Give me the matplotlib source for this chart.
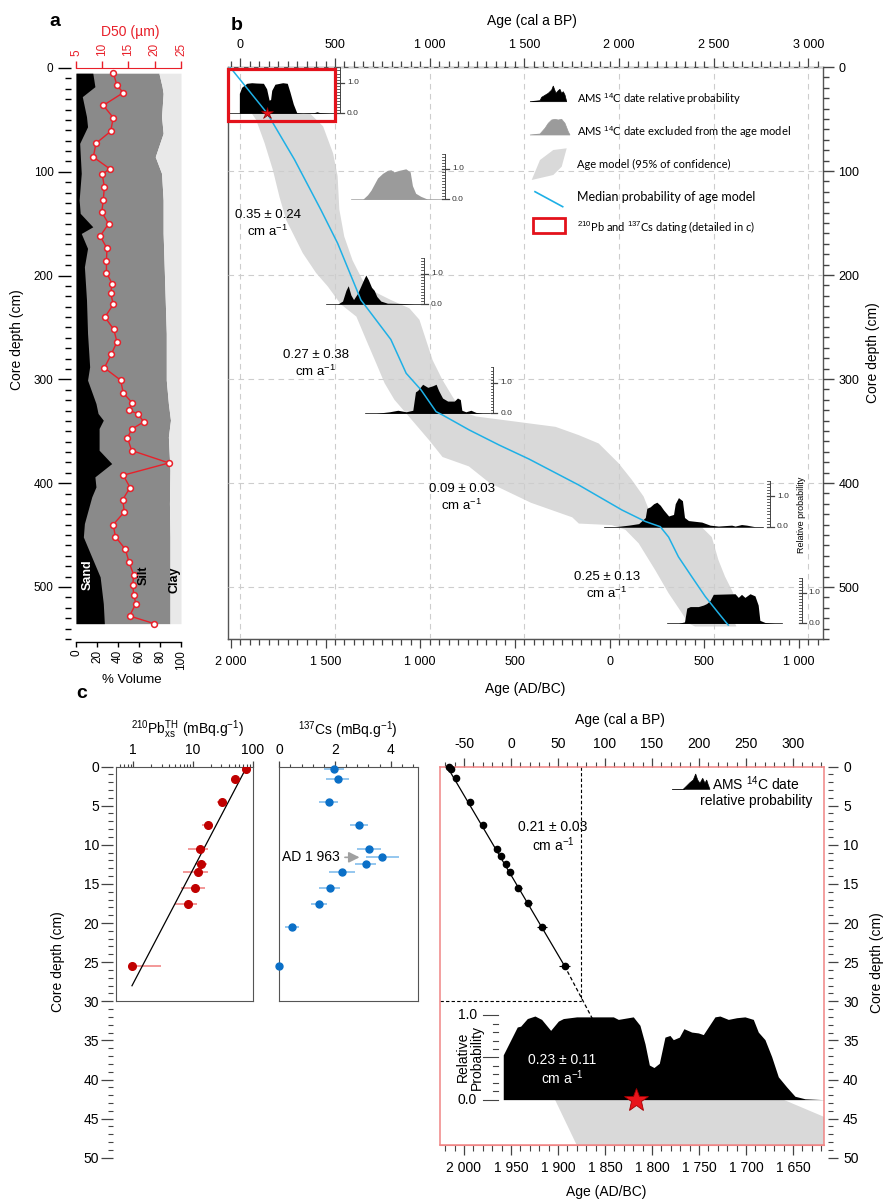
import numpy as np
import matplotlib
matplotlib.use("Agg")
import matplotlib.pyplot as plt
from matplotlib.ticker import (MultipleLocator, FixedLocator, FuncFormatter,
                               LogLocator, NullFormatter)
from matplotlib.patches import Rectangle, Polygon

plt.rcParams.update({
    "font.family": ["Liberation Sans", "DejaVu Sans"],
    "mathtext.fontset": "custom",
    "mathtext.rm": "Liberation Sans",
    "mathtext.it": "Liberation Sans:italic",
    "mathtext.bf": "Liberation Sans:bold",
    "axes.unicode_minus": False,
})

# ---------------- panel a : grain size ----------------
sand_depth = [5, 18, 27.6, 46.9, 56.6, 72.6, 101.5, 127.2, 140, 153, 159.4, 173.8, 191.5, 223.6, 255.7, 287.9,
              300.7, 323.2, 332.8, 339.3, 347.3, 368.2, 381.1, 393.9, 403.6, 413.2, 438.9, 451.8, 471.1, 490.3, 516, 535.3]
sand_pct = [16, 18, 6, 10, 11, 3.5, 5, 3, 4, 16, 5, 11, 8, 10, 11, 13,
            11, 19, 21, 26, 22, 22, 34, 18, 19, 15, 8, 7, 15, 23, 26, 27]
silt_clay_depth = [5, 18, 24.5, 46.9, 63, 85.5, 101.5, 127.2, 159.4, 191.5, 223.6, 255.7, 287.9,
                   300.7, 323.2, 339.3, 355.4, 387.5, 419.6, 451.8, 483.9, 535.3]
silt_clay_bound = [79, 82, 83, 81.5, 83, 75.5, 81.5, 83, 83, 84, 85, 86, 86,
                   86, 88, 90, 88, 89.5, 89, 89.5, 89.5, 89.5]
d50_depth = [4.5, 16.7, 23.8, 36.0, 47.9, 61.0, 72.6, 85.8, 97.0, 102.5, 114.4, 127.2, 138.8, 150.1, 161.9,
             173.8, 186.0, 197.3, 207.9, 216.6, 227.8, 240.0, 251.9, 263.8, 276.0, 288.9, 300.7, 313.0,
             322.6, 329.7, 333.2, 340.9, 348.0, 356.4, 368.5, 380.5, 392.3, 404.2, 415.8, 427.7, 439.9,
             451.5, 463.7, 475.9, 488.7, 497.7, 507.7, 516.0, 527.9, 535.3]
d50 = [12.1, 12.8, 14.0, 10.2, 12.1, 11.6, 8.8, 8.3, 11.4, 10.0, 10.4, 10.2, 9.9, 11.2, 9.6,
       10.9, 10.8, 10.8, 11.9, 11.6, 12.1, 10.5, 12.2, 12.8, 11.7, 10.4, 13.5, 14.0,
       15.7, 15.1, 16.8, 17.9, 15.6, 14.8, 15.6, 22.7, 14.0, 15.3, 13.9, 14.2, 12.1,
       12.5, 14.4, 15.1, 16.0, 15.8, 16.0, 16.4, 15.2, 19.9]

# ---------------- panel b : age model ----------------
band_left_bp = [60, 84, 128, 172, 207, 242, 286, 330, 400, 462, 530, 613, 665, 718, 762, 814, 876, 937, 998, 1068,
                1207, 1317, 1535, 1753, 1788, 1963, 2034, 2104, 2192, 2262, 2332, 2367, 2402]
band_left_depth = [44.5, 51, 73, 99, 125, 147, 163, 179, 198, 211, 228, 240, 262.5, 285, 304, 320, 333, 346, 359, 375,
                   384, 400, 419, 433, 439, 440.5, 445, 458, 484, 506, 525, 535, 538]
band_right_bp = [367, 437, 490, 514, 523, 549, 593, 646, 707, 795, 893, 946, 981, 1016, 1068, 1121, 1174, 1244, 1455,
                 1665, 1788, 1893, 1998, 2068, 2130, 2165, 2192, 2440, 2490, 2525, 2560, 2604, 2613, 2620]
band_right_depth = [44.5, 57, 83, 105, 137, 163, 186, 205, 216, 224, 232, 243, 262.5, 282, 301, 317, 331.5, 336, 341,
                    346, 354, 362, 381, 397, 413, 429, 442, 443, 452, 474, 490, 506, 535, 538]
median_bp = [-55, 142, 286, 426, 514, 637, 795, 876, 955, 1034, 1068, 1209, 1367, 1525, 1788, 2016, 2139, 2218,
             2262, 2314, 2384, 2455, 2525, 2577]
median_depth = [0, 44.5, 89, 137.5, 169.5, 224, 262, 294.5, 310.6, 331.4, 334.6, 349, 363.5, 377, 402, 426, 437,
                442, 452, 471, 490, 509, 525, 536.6]

date1_bp = [-5, -5, 7, 34, 60, 83, 122, 139, 152, 160, 166, 183, 224, 248, 262, 280, 298, 330, 390, 405, 420, 470]
date1_p = [0, 0.65, 0.85, 0.98, 1.0, 0.99, 0.98, 0.8, 0.43, 0.45, 0.75, 0.95, 1.0, 0.98, 0.7, 0.3, 0.02, 0.0,
           0.02, 0.05, 0.02, 0]
excl_bp = [646, 672, 690, 725, 751, 777, 795, 812, 839, 874, 897, 909, 926, 953, 988, 1041]
excl_p = [0, 0.15, 0.3, 0.7, 0.85, 0.95, 0.97, 0.9, 0.95, 1.0, 0.9, 0.45, 0.2, 0.1, 0.01, 0]
date2_bp = [514, 540, 558, 570, 584, 598, 619, 637, 655, 663, 676, 693, 707, 721, 742, 777, 865, 918]
date2_p = [0, 0.1, 0.45, 0.6, 0.3, 0.15, 0.35, 0.6, 0.85, 0.95, 0.8, 0.55, 0.45, 0.25, 0.1, 0.03, 0.02, 0]
date3_bp = [718, 788, 832, 876, 911, 925, 937, 963, 990, 1016, 1034, 1047, 1068, 1095, 1130, 1147, 1162, 1170,
            1191, 1218, 1244, 1279]
date3_p = [0, 0.05, 0.1, 0.05, 0.1, 0.7, 0.75, 0.95, 0.85, 0.9, 0.95, 0.75, 0.5, 0.4, 0.4, 0.5, 0.45, 0.1,
           0.05, 0.1, 0.03, 0]
date4_bp = [1981, 2051, 2104, 2139, 2147, 2165, 2183, 2200, 2218, 2235, 2262, 2288, 2297, 2314, 2335, 2346, 2367,
            2437, 2481, 2525, 2595, 2613, 2647, 2674, 2718]
date4_p = [0, 0.05, 0.1, 0.3, 0.6, 0.65, 0.75, 0.8, 0.7, 0.55, 0.35, 0.4, 0.75, 0.95, 0.85, 0.3, 0.2, 0.15,
           0.05, 0.02, 0.05, 0.02, 0.07, 0.05, 0]
date5_bp = [2314, 2346, 2358, 2376, 2419, 2446, 2463, 2481, 2498, 2613, 2630, 2647, 2665, 2692, 2718, 2735, 2744,
            2771, 2823]
date5_p = [0, 0.05, 0.5, 0.55, 0.55, 0.6, 0.65, 0.75, 0.95, 0.97, 0.85, 0.95, 0.85, 0.97, 0.9, 0.6, 0.1, 0.03, 0]
date_base_depth = [44.5, 127.3, 228, 333, 442, 535]       # baselines: date1, excluded, date2..date5
prob_axis_bp = [526, 1081, 970, 1336, 2797, 2965]         # small probability scales
rate_labels_b = ["0.35 ± 0.24", "0.27 ± 0.38", "0.09 ± 0.03", "0.25 ± 0.13"]
star_b = (142, 44.5)

# ---------------- panel c : 210Pb / 137Cs ----------------
pb_depth = [0.3, 1.6, 4.5, 7.5, 10.5, 12.5, 13.5, 15.5, 17.5, 25.5]
pb = [78.6, 50.0, 30.4, 17.8, 12.9, 13.6, 12.3, 10.9, 8.2, 0.95]
pb_lo = [74, 44.5, 24.9, 14.0, 8.15, 10.8, 6.9, 6.3, 4.9, 0.95]
pb_hi = [84, 58.2, 36.6, 21.9, 17.6, 17.4, 18.0, 15.7, 11.5, 2.9]
pb_fit_x = [80, 0.95]
pb_fit_depth = [0, 28]
cs_depth = [0.3, 1.6, 4.5, 7.5, 10.5, 11.5, 12.5, 13.5, 15.5, 17.5, 20.5, 25.5]
cs = [1.97, 2.1, 1.78, 2.86, 3.22, 3.7, 3.1, 2.25, 1.81, 1.44, 0.46, 0.0]
cs_err = [0.37, 0.41, 0.34, 0.33, 0.42, 0.6, 0.37, 0.48, 0.37, 0.29, 0.26, 0.0]
cr_bp = [-66, -64, -59, -44, -30, -15, -11, -5, -1, 8, 18, 33, 57]
cr_depth = [0.0, 0.3, 1.5, 4.5, 7.5, 10.5, 11.5, 12.5, 13.5, 15.5, 17.5, 20.5, 25.5]
cr_err = [1, 1, 1.5, 1.5, 2, 2, 2, 2.5, 3, 3.5, 4, 5, 6]
cr_fit_bp = [-68, 57]
cr_fit_depth = [0, 25.5]
cr_ext_bp = [57, 132.5]
cr_ext_depth = [25.5, 42.7]
crp_bp = [-8.2, -8.2, 6.7, 10.3, 17.4, 25.5, 32.6, 42.2, 50.4, 55.7, 69.9, 108.9, 114.2, 130.1, 137.2, 142.6, 147.2,
          152.1, 157.8, 163.8, 169.1, 172.7, 179.1, 184, 192.2, 199.3, 204.6, 217, 222.3, 231.2, 240.1, 248.9,
          257.8, 263.1, 270.2, 277.3, 284.4, 293.3, 302.1, 312.8, 333]
crp_p = [0, 0.53, 0.86, 0.87, 0.96, 0.99, 0.95, 0.82, 0.93, 0.96, 0.98, 0.98, 0.95, 0.98, 0.88, 0.66, 0.41, 0.38,
         0.43, 0.74, 0.76, 0.71, 0.74, 0.84, 0.80, 0.79, 0.77, 0.98, 0.99, 0.95, 0.97, 0.98, 0.95, 0.80, 0.71,
         0.51, 0.27, 0.15, 0.04, 0.01, 0]
crp_base = 42.6
cband_bp = [46.8, 69.9, 333, 333, 289.7]
cband_depth = [42.6, 48.4, 48.4, 44.8, 42.6]
star_c = (132.5, 42.7)

# ---------------- figure ----------------
W, H = 886, 1200
fig = plt.figure(figsize=(W / 100, H / 100), dpi=100)
fig.patch.set_facecolor("white")


def rect(x0, y0, x1, y1):
    return [x0 / W, 1 - y1 / H, (x1 - x0) / W, (y1 - y0) / H]


def pt(px):
    return px * 72 / 100


def thou(v, _=None):
    return f"{int(round(abs(v))):,}".replace(",", " ")


RED = "#e8202a"
TK = "#444444"

# ---- panel a ----
axa = fig.add_axes(rect(76, 68, 181, 641.7))
axa.set_xlim(0, 100)
axa.set_ylim(552.7, 0)
axa.fill_betweenx(silt_clay_depth, 0, silt_clay_bound, color="#8a8a8a", lw=0)
axa.fill_betweenx(silt_clay_depth, silt_clay_bound, 100, color="#e9e9e9", lw=0)
axa.fill_betweenx(sand_depth, 0, sand_pct, color="black", lw=0)
for s in ("top", "right"):
    axa.spines[s].set_visible(False)
axa.spines["left"].set_position(("outward", pt(5.3)))
axa.spines["left"].set_visible(False)
axa.spines["bottom"].set_linewidth(1)
axa.yaxis.set_major_locator(MultipleLocator(100))
axa.yaxis.set_minor_locator(MultipleLocator(10))
axa.tick_params(axis="y", which="major", length=pt(12.7), width=1, pad=pt(4.5), labelsize=8.5)
axa.tick_params(axis="y", which="minor", length=pt(6), width=1)
axa.xaxis.set_major_locator(MultipleLocator(20))
axa.tick_params(axis="x", which="major", length=pt(5), width=1, pad=pt(3), labelsize=8.5, labelrotation=90)

axd = axa.twiny()
axd.set_xlim(5, 25)
axd.plot(d50, d50_depth, color=RED, lw=1, marker="o", ms=4.2, mfc="white", mec=RED, mew=1.1, zorder=5)
for s in ("left", "right", "bottom"):
    axd.spines[s].set_visible(False)
axd.spines["top"].set_color(RED)
axd.xaxis.set_major_locator(MultipleLocator(5))
axd.tick_params(axis="x", colors=RED, length=pt(7), width=1, pad=pt(5), labelsize=8.5, labelrotation=90)

# ---- panel b ----
BPX = 1 / 0.18935
axb = fig.add_axes(rect(228, 67, 823.3, 639))
axb.set_xlim(-65, 3079)
axb.set_ylim(550, 0)
bx = np.concatenate([band_left_bp, band_right_bp[::-1]])
by = np.concatenate([band_left_depth, band_right_depth[::-1]])
axb.fill(bx, by, color="#d9d9d9", lw=0, zorder=1)

HS = 29.4
dates = [(date1_bp, date1_p, "black"), (excl_bp, excl_p, "#9b9b9b"), (date2_bp, date2_p, "black"),
         (date3_bp, date3_p, "black"), (date4_bp, date4_p, "black"), (date5_bp, date5_p, "black")]
for (dbp, dp, col), base, xa in zip(dates, date_base_depth, prob_axis_bp):
    dbp = np.asarray(dbp, float)
    dp = np.asarray(dp, float)
    axb.fill_between(dbp, base - dp * HS, base, color=col, lw=0, zorder=3)
    axb.plot([dbp[0] - 60, dbp[-1] + 40], [base, base], color=col, lw=0.5, zorder=3)
    # small relative-probability scale
    axb.plot([xa, xa], [base, base - 1.5 * HS], color=TK, lw=0.7, zorder=5)
    for k in range(16):
        yk = base - k / 10 * HS
        if k in (0, 10):
            axb.plot([xa - 2.5 * BPX, xa + 4 * BPX], [yk, yk], color=TK, lw=0.9, zorder=5)
        else:
            axb.plot([xa - 2.5 * BPX, xa], [yk, yk], color=TK, lw=0.6, zorder=5)
    axb.text(xa + 7 * BPX, base, "0.0", fontsize=6, va="center", ha="left", color="#333")
    axb.text(xa + 7 * BPX, base - HS, "1.0", fontsize=6, va="center", ha="left", color="#333")

axb.plot(median_bp, median_depth, color="#1eb0e6", lw=1.1, zorder=4)
axb.add_patch(Rectangle((-64, 1.8), 566, 49.8, fill=False, ec="#e3121b", lw=2.3, zorder=6, clip_on=False))
axb.plot(*star_b, marker="*", ms=9, color="#e3121b", mec="#8b0000", mew=0.5, zorder=7)

axb.xaxis.tick_top()
axb.xaxis.set_major_locator(MultipleLocator(500))
axb.xaxis.set_minor_locator(MultipleLocator(50))
axb.xaxis.set_major_formatter(FuncFormatter(thou))
axb.tick_params(axis="x", which="major", length=pt(9), width=0.9, pad=pt(7.5), labelsize=9, color=TK)
axb.tick_params(axis="x", which="minor", length=pt(6), width=0.9, color=TK)
axb.yaxis.tick_right()
axb.yaxis.set_major_locator(MultipleLocator(100))
axb.yaxis.set_minor_locator(MultipleLocator(10))
axb.tick_params(axis="y", which="major", length=pt(11), width=1, pad=pt(4), labelsize=9, color=TK)
axb.tick_params(axis="y", which="minor", length=pt(6), width=1, color=TK)
for s in axb.spines.values():
    s.set_color("#555555")
    s.set_linewidth(1)
axb.grid(True, which="major", color="#cdcdcd", ls=(0, (5, 4)), lw=0.8)
axb.set_axisbelow(False)

secb = axb.secondary_xaxis("bottom", functions=(lambda x: 1950 - x, lambda x: 1950 - x))
secb.xaxis.set_major_locator(FixedLocator([2000, 1500, 1000, 500, 0, -500, -1000]))
secb.xaxis.set_minor_locator(MultipleLocator(50))
secb.xaxis.set_major_formatter(FuncFormatter(thou))
secb.tick_params(axis="x", which="major", length=pt(9), width=0.9, pad=pt(8), labelsize=9, color=TK)
secb.tick_params(axis="x", which="minor", length=pt(6), width=0.9, color=TK)
secb.spines["bottom"].set_color("#555555")

# ---- panel c : Pb ----
axp = fig.add_axes(rect(115.7, 766.5, 252.7, 1001.4))
axp.set_xscale("log")
axp.set_xlim(0.507, 100)
axp.set_ylim(30, 0)
axp.hlines(pb_depth, pb_lo, pb_hi, color="#f29090", lw=1.3, zorder=2)
axp.plot(pb_fit_x, pb_fit_depth, color="black", lw=0.9, zorder=3)
axp.plot(pb, pb_depth, "o", color="#c00000", ms=5.5, zorder=4)
axp.xaxis.tick_top()
axp.xaxis.set_major_locator(FixedLocator([1, 10, 100]))
axp.xaxis.set_major_formatter(FuncFormatter(lambda v, _: f"{v:g}"))
axp.xaxis.set_minor_locator(LogLocator(base=10, subs=np.arange(2, 10)))
axp.xaxis.set_minor_formatter(NullFormatter())
axp.set_yticks([])
axp.tick_params(axis="x", which="major", length=pt(6), width=0.9, pad=pt(3), labelsize=10, color=TK)
axp.tick_params(axis="x", which="minor", length=pt(3.5), width=0.8, color=TK)
for s in axp.spines.values():
    s.set_color("#555555")

# ---- panel c : Cs ----
axc = fig.add_axes(rect(279.3, 766.5, 418.3, 1001.4))
axc.set_xlim(0, 4.99)
axc.set_ylim(30, 0)
cs_a = np.asarray(cs)
cse = np.asarray(cs_err)
axc.hlines(cs_depth, cs_a - cse, cs_a + cse, color="#8cc3ee", lw=1.3, zorder=2)
axc.plot(cs, cs_depth, "o", color="#0a6fc7", ms=5, zorder=4, clip_on=False)
axc.xaxis.tick_top()
axc.xaxis.set_major_locator(FixedLocator([0, 2, 4]))
axc.xaxis.set_minor_locator(MultipleLocator(0.4))
axc.set_yticks([])
axc.tick_params(axis="x", which="major", length=pt(6), width=0.9, pad=pt(3), labelsize=10, color=TK)
axc.tick_params(axis="x", which="minor", length=pt(3.5), width=0.8, color=TK)
for s in axc.spines.values():
    s.set_color("#555555")
axc.annotate("AD 1 963", xy=(2.88, 11.6), xytext=(1.12, 11.6), ha="center", va="center", fontsize=10,
             arrowprops=dict(arrowstyle="-|>", color="#a0a0a0", lw=1.2, mutation_scale=16,
                             shrinkA=2, shrinkB=0))

# ---- shared depth scales of panel c ----
axl = fig.add_axes(rect(113.3, 766.5, 113.8, 1157.8))
axrd = fig.add_axes(rect(827.5, 766.5, 828.0, 1157.8))
for a in (axl, axrd):
    a.set_ylim(50, 0)
    a.set_xlim(0, 1)
    for s in a.spines.values():
        s.set_visible(False)
    a.patch.set_visible(False)
    a.set_xticks([])
    a.yaxis.set_major_locator(MultipleLocator(5))
    a.yaxis.set_minor_locator(MultipleLocator(1))
axl.tick_params(axis="y", which="major", length=pt(11.6), width=0.9, pad=pt(2.5), labelsize=10, color=TK)
axl.tick_params(axis="y", which="minor", length=pt(5), width=0.8, color=TK)
axrd.yaxis.tick_right()
axrd.tick_params(axis="y", which="major", length=pt(10), width=0.9, pad=pt(5), labelsize=10, color=TK)
axrd.tick_params(axis="y", which="minor", length=pt(5), width=0.8, color=TK)

# ---- panel c : age-depth ----
axr = fig.add_axes(rect(440, 766.5, 824, 1145))
axr.set_xlim(-75.5, 333)
axr.set_ylim(48.4, 0)
axr.fill(cband_bp, cband_depth, color="#d9d9d9", lw=0, zorder=1)
crpb = np.asarray(crp_bp, float)
crpp = np.asarray(crp_p, float)
axr.fill_between(crpb, crp_base - crpp * 10.8, crp_base, color="black", lw=0, zorder=3)
axr.plot([-75.5, 75], [30, 30], color="black", lw=0.8, ls=(0, (3, 2)), zorder=2)
axr.plot([75, 75], [0, 30], color="black", lw=0.8, ls=(0, (3, 2)), zorder=2)
axr.plot(cr_fit_bp, cr_fit_depth, color="black", lw=0.9, zorder=4)
axr.plot(cr_ext_bp, cr_ext_depth, color="black", lw=0.9, ls=(0, (3, 2)), zorder=4)
axr.errorbar(cr_bp, cr_depth, xerr=cr_err, fmt="o", color="black", ms=4.5, elinewidth=0.8, capsize=0,
             zorder=5, clip_on=False)
axr.plot(*star_c, marker="*", ms=18, color="#e8141b", mec="#a00000", mew=0.6, zorder=7, clip_on=False)
# relative probability scale
for k in range(11):
    yk = crp_base - k / 10 * 10.8
    x0 = -13.8 - (15.7 if k in (0, 5, 10) else 5.7)
    axr.plot([x0, -13.8], [yk, yk], color=TK, lw=0.8, zorder=5)
axr.text(-36, crp_base, "0.0", fontsize=10, ha="right", va="center")
axr.text(-36, crp_base - 10.8, "1.0", fontsize=10, ha="right", va="center")

axr.xaxis.tick_top()
axr.xaxis.set_major_locator(FixedLocator(list(range(-50, 301, 50))))
axr.xaxis.set_minor_locator(MultipleLocator(10))
axr.set_yticks([])
axr.tick_params(axis="x", which="major", length=pt(9.5), width=0.9, pad=pt(6), labelsize=10, color=TK)
axr.tick_params(axis="x", which="minor", length=pt(5.5), width=0.8, color=TK)
for s in axr.spines.values():
    s.set_color("#f08585")
    s.set_linewidth(1.1)
secr = axr.secondary_xaxis("bottom", functions=(lambda x: 1950 - x, lambda x: 1950 - x))
secr.xaxis.set_major_locator(FixedLocator(list(range(2000, 1649, -50))))
secr.xaxis.set_minor_locator(MultipleLocator(10))
secr.xaxis.set_major_formatter(FuncFormatter(thou))
secr.tick_params(axis="x", which="major", length=pt(10), width=0.9, pad=pt(6), labelsize=10, color=TK)
secr.tick_params(axis="x", which="minor", length=pt(5.5), width=0.8, color=TK)
secr.spines["bottom"].set_color("#f08585")

# ---------------- overlay (labels, legends) ----------------
ov = fig.add_axes([0, 0, 1, 1], zorder=20)
ov.set_xlim(0, W)
ov.set_ylim(H, 0)
ov.axis("off")


def T(x, y, s, **kw):
    kw.setdefault("ha", "center")
    kw.setdefault("va", "center")
    ov.text(x, y, s, **kw)


T(55, 21, "a", fontsize=14, fontweight="bold")
T(237, 26, "b", fontsize=14, fontweight="bold")
T(82, 693, "c", fontsize=14, fontweight="bold")
T(130, 31.7, "D50 (µm)", fontsize=10, color=RED)
T(17, 340, "Core depth (cm)", fontsize=10, rotation=90)
T(131.7, 680, "% Volume", fontsize=9.5)
T(88, 575, "Sand", fontsize=9, fontweight="bold", color="white", rotation=90)
T(143.3, 575, "Silt", fontsize=9, fontweight="bold", rotation=90)
T(175, 580, "Clay", fontsize=9, fontweight="bold", rotation=90)

T(531.7, 20.7, "Age (cal a BP)", fontsize=10)
T(525, 689, "Age (AD/BC)", fontsize=10)
T(873, 353, "Core depth (cm)", fontsize=10, rotation=90)
for (x, y), s in zip([(268, 224), (316, 364), (462, 498), (607, 586)], rate_labels_b):
    T(x, y, s + "\ncm a$^{-1}$", fontsize=9.5, linespacing=1.15)
T(802, 515, "Relative probability", fontsize=6.5, rotation=90)

# legend of b
LF = dict(fontsize=8, ha="left", va="center", family=["Lato", "DejaVu Sans"])
ov.add_patch(Polygon([(530, 101.7), (540, 100.7), (541.7, 97.3), (548.3, 93.3), (551.7, 90), (553.3, 86),
                      (556, 93.3), (558.3, 90.7), (560, 89.3), (561.7, 93.3), (563.3, 91.7), (565, 95),
                      (566.7, 101.7)], closed=True, fc="black", ec="black", lw=0.5))
ov.add_patch(Polygon([(530, 135), (540, 134), (545, 128.3), (548.3, 123.3), (551.7, 120), (555, 119.3),
                      (558.3, 120), (561.7, 119.3), (565, 123.3), (568.3, 131.7), (570, 135)],
                     closed=True, fc="#9b9b9b", ec="#9b9b9b", lw=0.5))
ov.add_patch(Polygon([(531.7, 180), (540, 160), (553.3, 150), (566.7, 148.3), (561.7, 166.7), (553.3, 175)],
                     closed=True, fc="#d9d9d9", ec="none"))
ov.plot([535, 562.7], [191.7, 206.7], color="#1eb0e6", lw=1.2)
ov.add_patch(Rectangle((532.7, 218), 32.3, 15, fill=False, ec="#e3121b", lw=2))
T(577, 99.3, "AMS $^{14}$C date relative probability", **LF)
T(577, 131.7, "AMS $^{14}$C date excluded from the age model", **LF)
T(577, 164.3, "Age model (95% of confidence)", **LF)
T(577, 197, "Median probability of age model", **dict(LF, fontsize=9))
T(577, 226.7, "$^{210}$Pb and $^{137}$Cs dating (detailed in c)", **LF)

# panel c labels
T(188, 730, r"$^{210}$Pb$_{\mathrm{xs}}^{\mathrm{TH}}$ (mBq.g$^{-1}$)", fontsize=10)
T(348, 730, "$^{137}$Cs (mBq.g$^{-1}$)", fontsize=10)
T(58, 962, "Core depth (cm)", fontsize=10, rotation=90)
T(877, 963, "Core depth (cm)", fontsize=10, rotation=90)
T(620, 720, "Age (cal a BP)", fontsize=10)
T(606, 1192, "Age (AD/BC)", fontsize=10)
T(553, 837, "0.21 ± 0.03\ncm a$^{-1}$", fontsize=10, linespacing=1.15)
T(562, 1070, "0.23 ± 0.11\ncm a$^{-1}$", fontsize=10, color="white", linespacing=1.15)
T(470, 1057, "Relative\nProbability", fontsize=10, rotation=90, linespacing=1.0)
ov.plot([671.7, 684], [789.3, 789.3], color="black", lw=0.6)
ov.add_patch(Polygon([(683.3, 789.3), (686.7, 786), (690, 782.7), (693.3, 780), (695.7, 774), (697.7, 780),
                      (700, 783.3), (702.7, 778.3), (705, 783.3), (706.7, 780), (708.3, 785), (710, 789.3)],
                     closed=True, fc="black", ec="black", lw=0.5))
T(756, 791, "AMS $^{14}$C date\nrelative probability", fontsize=10, linespacing=1.1)

fig.savefig("out.png", dpi=100, facecolor="white")
